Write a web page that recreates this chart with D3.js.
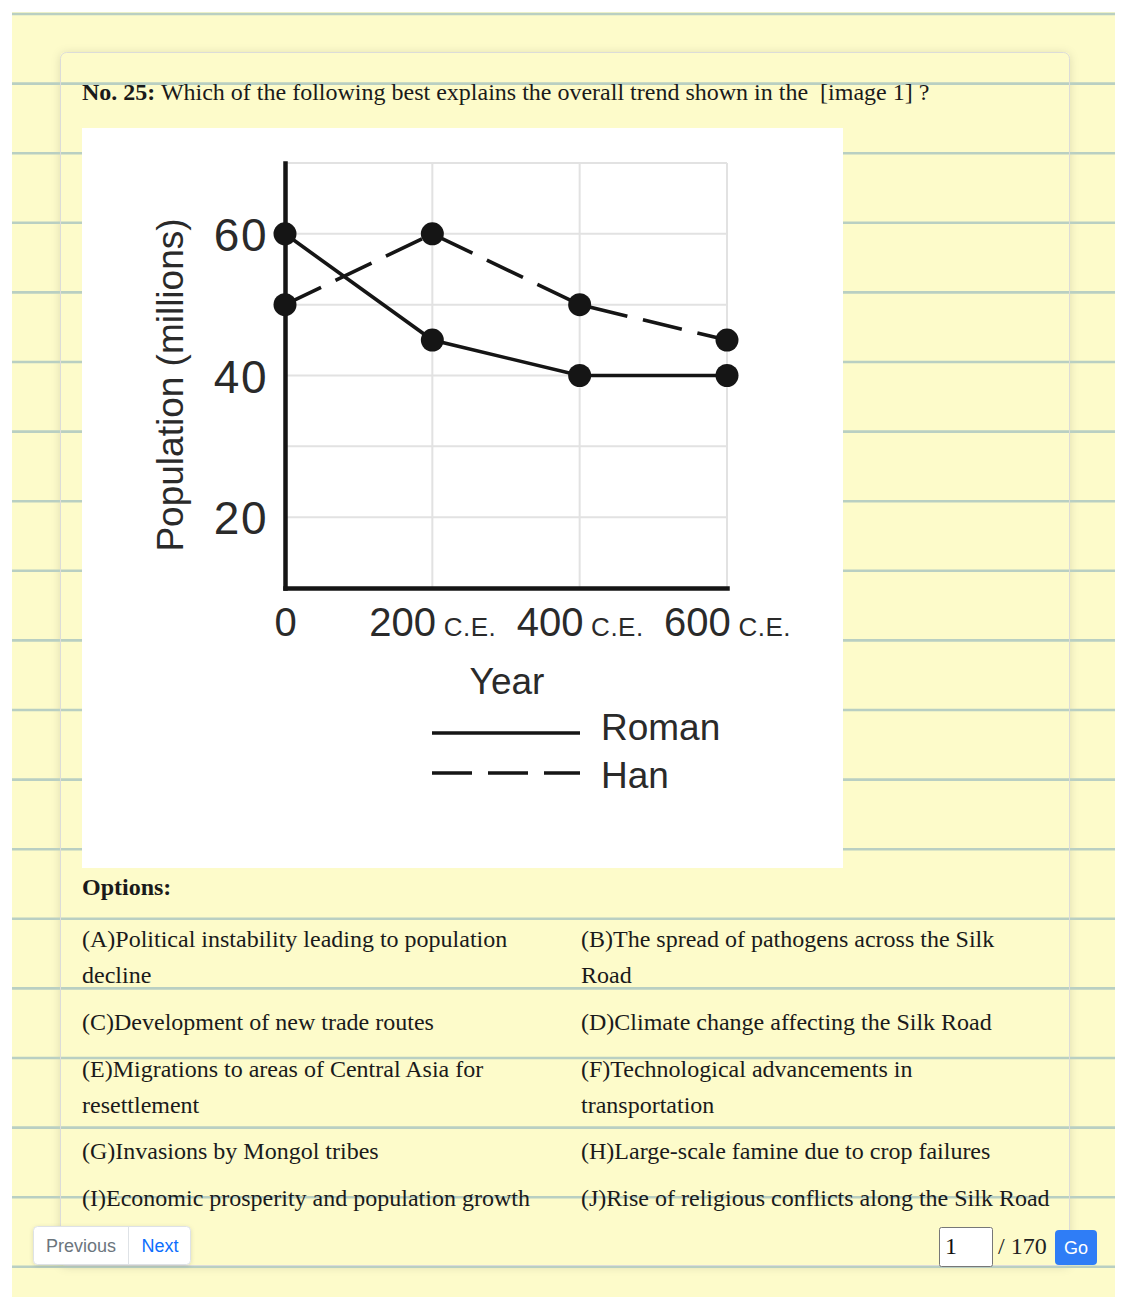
<!DOCTYPE html>
<html>
<head>
<meta charset="utf-8">
<script src="https://cdn.jsdelivr.net/npm/d3@7"></script>
<style>
  html, body { margin: 0; padding: 0; background: #fff; }
  svg { display: block; }
</style>
</head>
<body>
<svg id="page" width="1125" height="1308"></svg>
<script>
// ---------- DATA ----------
const years = [0, 200, 400, 600];
const roman = [60, 45, 40, 40];
const han = [50, 60, 50, 45];
const yTickValues = [20, 40, 60];
const yGridValues = [20, 30, 40, 50, 60, 70];
const xTickNumbers = ["0", "200", "400", "600"];
const xTickSuffix = ["", " C.E.", " C.E.", " C.E."];
const seriesNames = ["Roman", "Han"];
const yTitle = "Population (millions)";
const xTitle = "Year";

const questionNo = "No. 25:";
const questionText = " Which of the following best explains the overall trend shown in the \u00a0[image 1] ?";
const optionsLeft = [
  ["(A)Political instability leading to population", "decline"],
  ["(C)Development of new trade routes"],
  ["(E)Migrations to areas of Central Asia for", "resettlement"],
  ["(G)Invasions by Mongol tribes"],
  ["(I)Economic prosperity and population growth"]
];
const optionsRight = [
  ["(B)The spread of pathogens across the Silk", "Road"],
  ["(D)Climate change affecting the Silk Road"],
  ["(F)Technological advancements in", "transportation"],
  ["(H)Large-scale famine due to crop failures"],
  ["(J)Rise of religious conflicts along the Silk Road"]
];
const optionRowBaselines = [947, 1030, 1077, 1159, 1206];
const totalPages = "170";
const currentPage = "1";

// ---------- PAGE ----------
const svg = d3.select("#page");
const defs = svg.append("defs");
const f = defs.append("filter").attr("id", "shadow").attr("x", "-5%").attr("y", "-5%").attr("width", "110%").attr("height", "110%");
f.append("feDropShadow").attr("dx", 0).attr("dy", 1).attr("stdDeviation", 5).attr("flood-color", "#000").attr("flood-opacity", 0.12);
const fb = defs.append("filter").attr("id", "shadow2").attr("x", "-20%").attr("y", "-20%").attr("width", "140%").attr("height", "140%");
fb.append("feDropShadow").attr("dx", 0).attr("dy", 1).attr("stdDeviation", 2).attr("flood-color", "#000").attr("flood-opacity", 0.12);

const yellow = "#fdfbca";
svg.append("rect").attr("x", 12).attr("y", 12).attr("width", 1103).attr("height", 1285).attr("fill", yellow);
// card shadow + fill
svg.append("rect").attr("x", 60).attr("y", 52).attr("width", 1010).attr("height", 1214)
  .attr("rx", 6).attr("fill", yellow).attr("filter", "url(#shadow)");
// ruled lines
const ruleYs = d3.range(19).map(i => 14 + i * 69.6);
svg.append("g").selectAll("line").data(ruleYs).join("line")
  .attr("x1", 12).attr("x2", 1115).attr("y1", d => d).attr("y2", d => d)
  .attr("stroke", "#b9cfc2").attr("stroke-width", 2.6);
// card border
svg.append("rect").attr("x", 60.5).attr("y", 52.5).attr("width", 1009).attr("height", 1213)
  .attr("rx", 6).attr("fill", "none").attr("stroke", "#dcdcd8").attr("stroke-width", 1);

// question title
const title = svg.append("text").attr("x", 82).attr("y", 100)
  .attr("font-family", "'Liberation Serif', 'Times New Roman', serif").attr("font-size", 24).attr("fill", "#1a1a1a")
  .attr("xml:space", "preserve");
title.append("tspan").attr("font-weight", "bold").text(questionNo);
title.append("tspan").text(questionText);

// ---------- CHART ----------
const chartX = 82, chartY = 128, chartW = 761, chartH = 740;
svg.append("rect").attr("x", chartX).attr("y", chartY).attr("width", chartW).attr("height", chartH).attr("fill", "#fff");
const g = svg.append("g").attr("transform", `translate(${chartX},${chartY})`)
  .attr("font-family", "'Liberation Sans', Arial, Helvetica, sans-serif");

const x = d3.scaleLinear().domain([0, 600]).range([203, 645]);
const y = d3.scaleLinear().domain([10, 70]).range([460, 35]);
const ink = "#151515";
const textInk = "#2a2a2a";

// grid
g.append("g").selectAll("line").data(yGridValues).join("line")
  .attr("x1", x(0)).attr("x2", x(600)).attr("y1", d => y(d)).attr("y2", d => y(d))
  .attr("stroke", "#e2e2e2").attr("stroke-width", 2);
g.append("g").selectAll("line").data(years.slice(1)).join("line")
  .attr("x1", d => x(d)).attr("x2", d => x(d)).attr("y1", y(70)).attr("y2", y(10))
  .attr("stroke", "#e2e2e2").attr("stroke-width", 2);

// axes
const yAxis = d3.axisLeft(y).tickValues(yTickValues).tickSize(0).tickSizeOuter(0).tickPadding(17);
const yAx = g.append("g").attr("transform", `translate(${x(0)},0)`).call(yAxis);
yAx.select(".domain").attr("stroke", ink).attr("stroke-width", 4.5).attr("stroke-linecap", "square");
yAx.selectAll("text").attr("font-size", 46).attr("fill", textInk).attr("font-family", "'Liberation Sans', Arial, sans-serif")
  .attr("dy", "0.36em").attr("letter-spacing", 1.5);

const xAxis = d3.axisBottom(x).tickValues(years).tickSize(0).tickSizeOuter(0).tickPadding(20);
const xAx = g.append("g").attr("transform", `translate(0,${y(10)})`).call(xAxis);
xAx.select(".domain").attr("stroke", ink).attr("stroke-width", 4.5).attr("stroke-linecap", "square");
xAx.selectAll("text").each(function(d, i) {
  const t = d3.select(this);
  t.text(null).attr("font-size", 40).attr("fill", textInk).attr("font-family", "'Liberation Sans', Arial, sans-serif")
    .attr("dy", "0.71em").attr("xml:space", "preserve");
  t.append("tspan").text(xTickNumbers[i]);
  if (xTickSuffix[i]) t.append("tspan").attr("font-size", 26).attr("letter-spacing", 0.5).text(xTickSuffix[i]);
});

// axis titles
g.append("text").attr("transform", `translate(101,257) rotate(-90)`).attr("text-anchor", "middle")
  .attr("font-size", 37).attr("fill", textInk).text(yTitle);
g.append("text").attr("x", 425).attr("y", 566).attr("text-anchor", "middle")
  .attr("font-size", 37).attr("fill", textInk).text(xTitle);

// series
const seriesData = [
  { name: seriesNames[0], values: roman, dash: null },
  { name: seriesNames[1], values: han, dash: "40,16" }
];
const line = d3.line().x((d, i) => x(years[i])).y(d => y(d));
seriesData.forEach(s => {
  g.append("path").datum(s.values).attr("d", line).attr("fill", "none")
    .attr("stroke", ink).attr("stroke-width", 3.6).attr("stroke-dasharray", s.dash);
  g.append("g").selectAll("circle").data(s.values).join("circle")
    .attr("cx", (d, i) => x(years[i])).attr("cy", d => y(d)).attr("r", 11.5).attr("fill", ink);
});

// legend
const legY = [605, 645];
const legTextY = [612, 660];
seriesData.forEach((s, i) => {
  g.append("line").attr("x1", 350).attr("x2", 498).attr("y1", legY[i]).attr("y2", legY[i])
    .attr("stroke", ink).attr("stroke-width", 3.4).attr("stroke-dasharray", s.dash);
  g.append("text").attr("x", 519).attr("y", legTextY[i])
    .attr("font-size", 37).attr("fill", textInk).text(s.name);
});

// ---------- OPTIONS ----------
const serif = "'Liberation Serif', 'Times New Roman', serif";
svg.append("text").attr("x", 82).attr("y", 895).attr("font-family", serif).attr("font-size", 24)
  .attr("font-weight", "bold").attr("fill", "#1a1a1a").text("Options:");
function drawOptions(list, x0) {
  list.forEach((lines, r) => {
    lines.forEach((ln, k) => {
      svg.append("text").attr("x", x0).attr("y", optionRowBaselines[r] + k * 36)
        .attr("font-family", serif).attr("font-size", 24).attr("fill", "#1a1a1a").text(ln);
    });
  });
}
drawOptions(optionsLeft, 82);
drawOptions(optionsRight, 581);

// ---------- PAGINATION ----------
const sans = "'Liberation Sans', Arial, Helvetica, sans-serif";
svg.append("rect").attr("x", 33.5).attr("y", 1226.5).attr("width", 157).attr("height", 38).attr("rx", 4)
  .attr("fill", "#fff").attr("stroke", "#dee2e6").attr("filter", "url(#shadow2)");
svg.append("line").attr("x1", 128.5).attr("x2", 128.5).attr("y1", 1227).attr("y2", 1264).attr("stroke", "#dee2e6");
svg.append("text").attr("x", 81).attr("y", 1252).attr("text-anchor", "middle").attr("font-family", sans)
  .attr("font-size", 18).attr("fill", "#6c757d").text("Previous");
svg.append("text").attr("x", 160).attr("y", 1252).attr("text-anchor", "middle").attr("font-family", sans)
  .attr("font-size", 18).attr("fill", "#0d6efd").text("Next");

svg.append("rect").attr("x", 939.5).attr("y", 1227.5).attr("width", 53).attr("height", 39).attr("rx", 2)
  .attr("fill", "#fff").attr("stroke", "#777").attr("stroke-width", 1);
svg.append("text").attr("x", 945).attr("y", 1254).attr("font-family", serif).attr("font-size", 24)
  .attr("fill", "#111").text(currentPage);
svg.append("text").attr("x", 998).attr("y", 1254).attr("font-family", serif).attr("font-size", 24)
  .attr("fill", "#222").text("/ " + totalPages);
svg.append("rect").attr("x", 1055).attr("y", 1230).attr("width", 42).attr("height", 35).attr("rx", 4)
  .attr("fill", "#2f7df6");
svg.append("text").attr("x", 1076).attr("y", 1254).attr("text-anchor", "middle").attr("font-family", sans)
  .attr("font-size", 18).attr("fill", "#fff").text("Go");
</script>
</body>
</html>
